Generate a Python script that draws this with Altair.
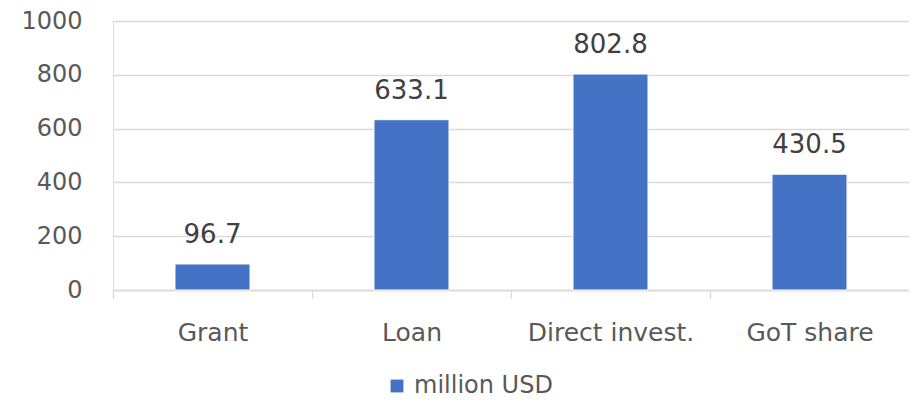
import altair as alt
import pandas as pd

categories = ["Grant", "Loan", "Direct invest.", "GoT share"]
values = [96.7, 633.1, 802.8, 430.5]
series_name = "million USD"
y_ticks = [0, 200, 400, 600, 800, 1000]

df = pd.DataFrame({"category": categories, "value": values, "series": [series_name] * len(categories)})

FONT = "DejaVu Sans"
BLUE = "#4472C4"
GRID = "#D9D9D9"

x_enc = alt.X(
    "category:N",
    sort=categories,
    title=None,
    scale=alt.Scale(paddingInner=0, paddingOuter=0),
    axis=alt.Axis(
        labelAngle=0,
        labelFont=FONT,
        labelFontSize=25,
        labelColor="#595959",
        labelPadding=22,
        domainColor=GRID,
        domainWidth=1.3,
        tickColor=GRID,
        tickWidth=1.3,
        tickSize=8,
        tickBand="extent",
        grid=False,
    ),
)
y_enc = alt.Y(
    "value:Q",
    title=None,
    scale=alt.Scale(domain=[0, 1000], nice=False),
    axis=alt.Axis(
        values=y_ticks,
        format="d",
        labelFont=FONT,
        labelFontSize=24,
        labelColor="#595959",
        labelPadding=31,
        domain=False,
        ticks=False,
        tickSize=0,
        grid=True,
        gridColor=GRID,
        gridWidth=1.3,
    ),
)

bars = alt.Chart(df).mark_bar(
    width=alt.RelativeBandSize(0.377), stroke="white", strokeWidth=1
).encode(
    x=x_enc,
    y=y_enc,
    color=alt.Color(
        "series:N",
        scale=alt.Scale(range=[BLUE]),
        legend=alt.Legend(
            title=None,
            orient="none",
            legendX=272,
            legendY=353,
            symbolType="square",
            symbolSize=165,
            symbolStrokeWidth=0,
            labelFont=FONT,
            labelFontSize=24,
            labelColor="#595959",
            labelOffset=5,
        ),
    ),
)

labels = alt.Chart(df).mark_text(
    font=FONT, fontSize=26, color="#404040", baseline="alphabetic", dy=-21
).encode(
    x=alt.X("category:N", sort=categories),
    y=alt.Y("value:Q"),
    text=alt.Text("value:Q", format=".1f"),
)

chart = (
    alt.layer(bars, labels)
    .properties(
        width=796,
        height=269,
        autosize=alt.AutoSizeParams(type="none"),
        padding={"left": 105, "top": 13, "right": 0, "bottom": 110},
    )
    .configure_view(stroke=None)
    .configure(background="white")
)

chart.save("out.html", embed_options={"renderer": "svg", "actions": False})
